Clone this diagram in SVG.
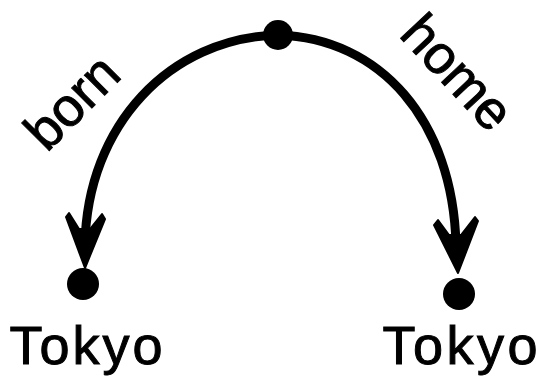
<svg xmlns="http://www.w3.org/2000/svg" width="546" height="383" viewBox="0 0 546 383">
<style>
.edge{fill:none;stroke:#000;stroke-width:9;stroke-linecap:round}
.head{fill:#000;stroke:#000;stroke-width:2;stroke-linejoin:round}
.node{fill:#000}
.lbl{font-family:"Liberation Sans",Arial,sans-serif;font-size:54px;fill:#000;stroke:#000;stroke-width:1}
</style>
<rect width="546" height="383" fill="#fff"/>
<g id="connectors">
<path class="edge" d="M278,35 C170,38 87,125 85,245"/>
<polygon class="head" points="85,268 105,219 102,214 90,229 79,229 69,213 66,217"/>
<path class="edge" d="M278,35 C380,38 453,120 456,245"/>
<polygon class="head" points="458,273 434,225 438,220 449,235 461,235 475,217 478,221"/>
<text class="lbl" text-anchor="middle" transform="translate(85,115) rotate(-45)">born</text>
<text class="lbl" text-anchor="middle" transform="translate(444,85) rotate(47)">home</text>
</g>
<g id="node-top"><circle class="node" cx="278" cy="35" r="15"/></g>
<g id="node-left"><circle class="node" cx="83" cy="284" r="16"/><text class="lbl" x="86" y="364" text-anchor="middle" textLength="153">Tokyo</text></g>
<g id="node-right"><circle class="node" cx="459" cy="294" r="16"/><text class="lbl" x="460" y="364" text-anchor="middle" textLength="155">Tokyo</text></g>
</svg>
